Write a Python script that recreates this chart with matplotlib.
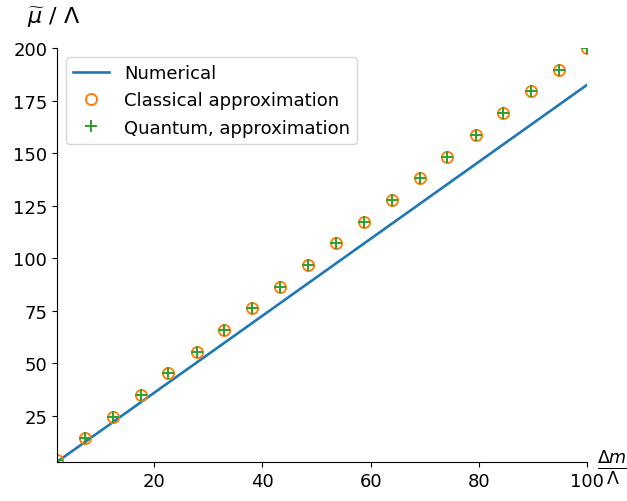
import matplotlib
matplotlib.use('Agg')
import matplotlib.pyplot as plt

plt.rcParams['font.size'] = 13

# numerical solution (straight line) endpoints
x_num = [2.0, 100.0]
y_num = [3.1, 182.5]

# approximation points
x_pts = [2.0, 7.2, 12.3, 17.5, 22.6, 27.8, 32.9, 38.1, 43.3, 48.4,
         53.6, 58.7, 63.9, 69.1, 74.2, 79.4, 84.5, 89.7, 94.8, 100.0]
y_cls = [4.0, 14.3, 24.6, 35.0, 45.3, 55.6, 65.9, 76.2, 86.5, 96.8,
         107.2, 117.5, 127.8, 138.1, 148.4, 158.7, 169.1, 179.4, 189.7, 200.0]
y_qnt = y_cls

fig = plt.figure(figsize=(6.27, 5.02), dpi=100)
ax = fig.add_axes([0.091, 0.078, 0.845, 0.824])

ax.plot(x_num, y_num, color='#1f77b4', lw=1.9, label='Numerical')
ax.plot(x_pts, y_cls, 'o', mfc='none', mec='#ff7f0e', ms=8, mew=1.4,
        label='Classical approximation')
ax.plot(x_pts, y_qnt, '+', color='#2ca02c', ms=9, mew=1.4,
        label='Quantum, approximation')

ax.set_xlim(2, 100)
ax.set_ylim(3.1, 200)
ax.set_xticks([20, 40, 60, 80, 100])
ax.set_yticks([25, 50, 75, 100, 125, 150, 175, 200])
ax.spines['top'].set_visible(False)
ax.spines['right'].set_visible(False)

ax.legend(loc='upper left', borderaxespad=0.5)

fig.text(0.085, 0.965, r'$\widetilde{\mu}$ / $\Lambda$', ha='center', va='center',
         fontsize=16)
fig.text(0.977, 0.068, r'$\frac{\Delta m}{\Lambda}$', ha='center', va='center',
         fontsize=18)

fig.savefig('out.png', dpi=100)
